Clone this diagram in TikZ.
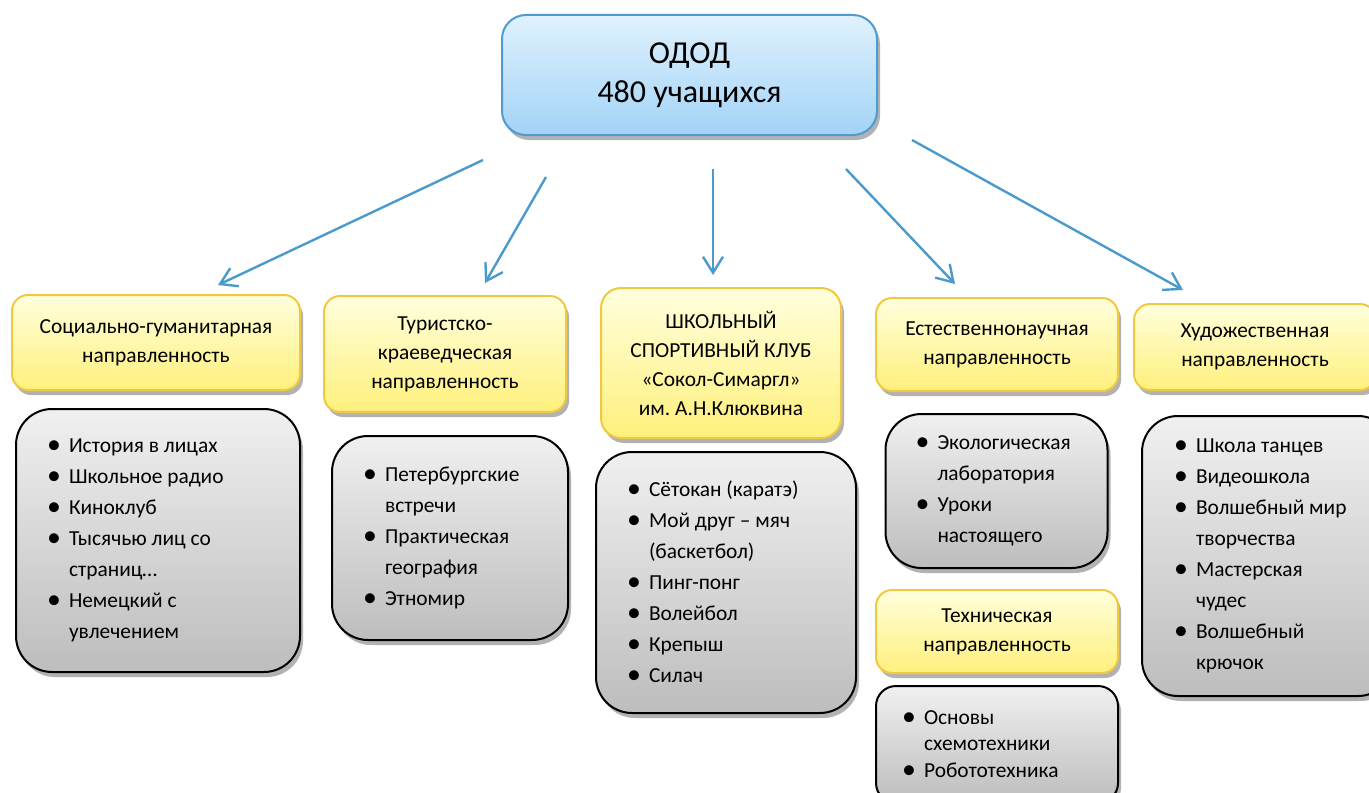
\documentclass[tikz,border=0pt]{standalone}
\usepackage{fontspec}
\setmainfont{Carlito}
\usepackage{xcolor}
\usepackage{graphicx}
\usepackage{tikz}
\usetikzlibrary{arrows.meta,shadows}
\definecolor{odTop}{HTML}{E0F2FD}
\definecolor{odBot}{HTML}{A2D3F7}
\definecolor{odEdge}{HTML}{4F9BD0}
\definecolor{dirTop}{HTML}{FFFFDD}
\definecolor{dirBot}{HTML}{FFF07C}
\definecolor{dirEdge}{HTML}{F1C940}
\definecolor{lstTop}{HTML}{F0F0F0}
\definecolor{lstBot}{HTML}{BDBDBD}
\definecolor{arrCol}{HTML}{4A9BCC}
\frenchspacing
\newcommand{\bl}[1]{\makebox[11pt][l]{\raisebox{-0.6pt}{\scalebox{1.3}{\textbullet}}}#1}
\newcommand{\cn}[1]{\hspace*{11pt}#1}
\tikzset{
  softshadow/.style={drop shadow={shadow xshift=1.5pt, shadow yshift=-2.5pt, opacity=0.3, fill=black}},
  root/.style={draw=odEdge, line width=1pt, rounded corners=12pt, top color=odTop, bottom color=odBot,
               minimum width=187.5pt, minimum height=60pt, font=\fontsize{16}{19.5}\selectfont,
               align=center, softshadow},
  dir/.style={draw=dirEdge, line width=1pt, rounded corners=8pt, top color=dirTop, bottom color=dirBot,
              minimum width=121pt, font=\fontsize{10.7}{14.5}\selectfont, align=center, softshadow}, % direction
  lst/.style={draw=black, line width=1pt, rounded corners=18pt, top color=lstTop, bottom color=lstBot,
              inner xsep=15.5pt, align=flush left, font=\fontsize{10.7}{15.5}\selectfont, softshadow}, % clubs list
  link/.style={-{Straight Barb[length=8pt,width=10pt]}, arrCol, line width=1.2pt},
}

\begin{document}
\begin{tikzpicture}[x=0.5pt,y=-0.5pt]
  \clip (0,0) rectangle (1369,792);

  \node[root] (odod) at (689.5,75) {ОДОД\\480 учащихся};

  % directions
  \node[dir, minimum width=144pt, minimum height=47.5pt] (soc) at (156,342.5) {Социально-гуманитарная\\направленность};
  \node[dir, minimum height=58pt] (tur) at (445,354) {Туристско-\\краеведческая\\направленность};
  \node[dir, minimum width=120pt, minimum height=75pt, rounded corners=10pt] (ssk) at (721,363)
       {ШКОЛЬНЫЙ\\СПОРТИВНЫЙ КЛУБ\\«Сокол-Симаргл»\\им. А.Н.Клюквина};
  \node[dir, minimum height=46.5pt] (est) at (997,344.5) {Естественнонаучная\\направленность};
  \node[dir, minimum height=43pt] (hud) at (1255,347) {Художественная\\направленность};
  \node[dir, minimum height=41.5pt] (teh) at (997,631.5) {Техническая\\направленность};

  % lists
  \node[lst, text width=111pt, minimum height=131.5pt] (socL) at (158,540.5)
       {\bl{История в лицах}\\\bl{Школьное радио}\\\bl{Киноклуб}\\\bl{Тысячью лиц со}\\\cn{страниц…}\\\bl{Немецкий с}\\\cn{увлечением}};
  \node[lst, text width=87pt, minimum height=102pt] (turL) at (450,538)
       {\bl{Петербургские}\\\cn{встречи}\\\bl{Практическая}\\\cn{география}\\\bl{Этномир}};
  \node[lst, text width=99pt, minimum height=130.5pt] (sskL) at (726,582.5)
       {\bl{Сётокан (каратэ)}\\\bl{Мой друг – мяч}\\\cn{(баскетбол)}\\\bl{Пинг-понг}\\\bl{Волейбол}\\\bl{Крепыш}\\\bl{Силач}};
  \node[lst, text width=81pt, minimum height=77pt, inner xsep=15pt] (estL) at (996.5,491)
       {\bl{Экологическая}\\\cn{лаборатория}\\\bl{Уроки}\\\cn{настоящего}};
  \node[lst, text width=94pt, minimum height=140pt, inner xsep=16pt] (hudL) at (1268,556)
       {\bl{Школа танцев}\\\bl{Видеошкола}\\\bl{Волшебный мир}\\\cn{творчества}\\\bl{Мастерская}\\\cn{чудес}\\\bl{Волшебный}\\\cn{крючок}};
  \node[lst, text width=95pt, minimum height=58.5pt, inner xsep=13pt, rounded corners=10pt,
        font=\fontsize{10.7}{13.25}\selectfont] (tehL) at (997,744.5)
       {\bl{Основы}\\\cn{схемотехники}\\\bl{Робототехника}};

  % arrows
  \coordinate (s1) at (483,160);  \coordinate (e1) at (218,285);
  \coordinate (s2) at (546,177);  \coordinate (e2) at (485,283);
  \coordinate (s3) at (713,169);  \coordinate (e3) at (713,275);
  \coordinate (s4) at (846,169);  \coordinate (e4) at (955,284);
  \coordinate (s5) at (912,140);  \coordinate (e5) at (1183,290);
  \foreach \i in {1,...,5}{\draw[link] (s\i) -- (e\i);}
\end{tikzpicture}
\end{document}
